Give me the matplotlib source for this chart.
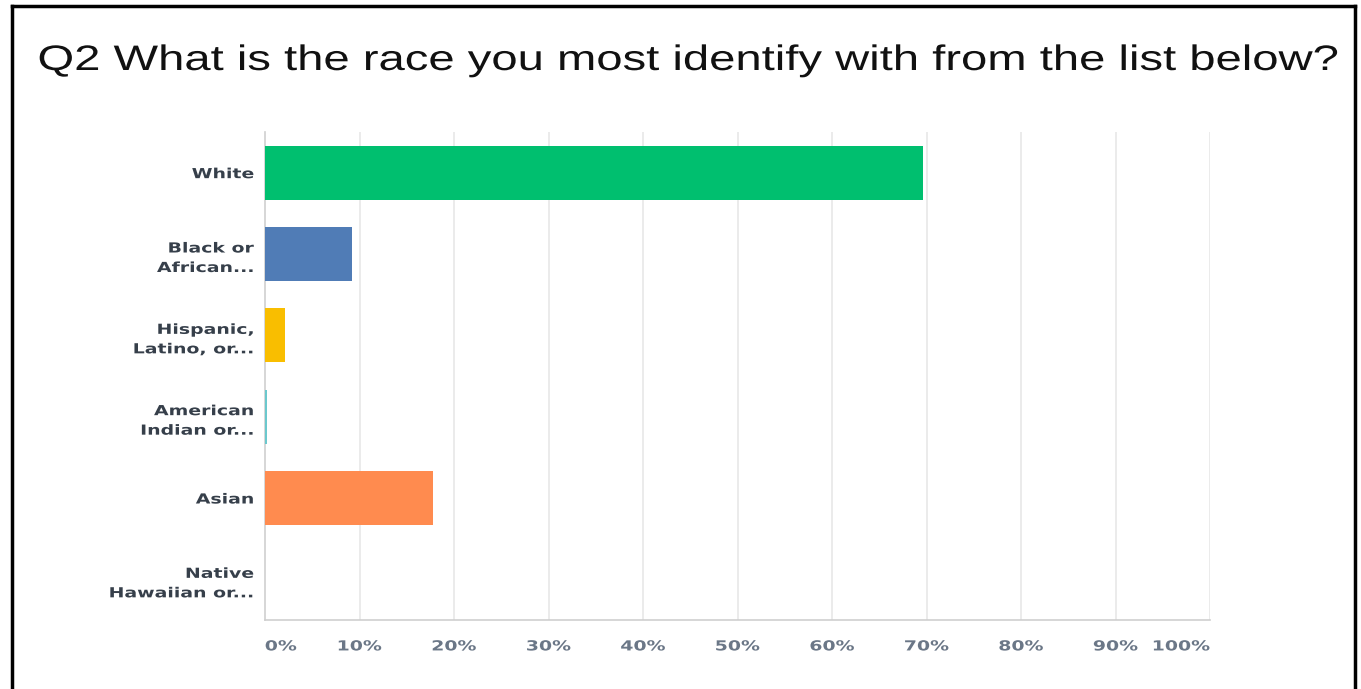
import matplotlib.pyplot as plt
import numpy as np
from matplotlib.lines import Line2D
from matplotlib.patheffects import AbstractPathEffect
from matplotlib.transforms import Affine2D

# answer categories and share of respondents (fraction)
categories = ['White', 'Black or\nAfrican...', 'Hispanic,\nLatino, or...',
              'American\nIndian or...', 'Asian', 'Native\nHawaiian or...']
shares = [0.696, 0.092, 0.021, 0.002, 0.178, 0.0]
bar_colors = ['#00bf6f', '#507cb6', '#f9be00', '#6bc8cd', '#ff8b4f', '#d25f90']
tick_values = [0, 0.1, 0.2, 0.3, 0.4, 0.5, 0.6, 0.7, 0.8, 0.9, 1.0]
tick_labels = ['0%', '10%', '20%', '30%', '40%', '50%', '60%', '70%', '80%', '90%', '100%']


class Stretch(AbstractPathEffect):
    """Widen glyphs horizontally around the left/right/centre of the ink."""

    def __init__(self, sx, anchor='center'):
        super().__init__()
        self.sx = sx
        self.anchor = anchor

    def draw_path(self, renderer, gc, tpath, affine, rgbFace=None):
        bb = tpath.get_extents(affine)
        x0 = {'left': bb.x0, 'right': bb.x1, 'center': 0.5 * (bb.x0 + bb.x1)}[self.anchor]
        t = affine + Affine2D().translate(-x0, 0).scale(self.sx, 1).translate(x0, 0)
        renderer.draw_path(gc, tpath, t, rgbFace)


W, H = 1361, 689
fig = plt.figure(figsize=(W / 100, H / 100), dpi=100)

ax = fig.add_axes([265 / W, 1 - 620 / H, (1210 - 265) / W, (620 - 132) / H])

y = np.arange(len(categories))
ax.barh(y, shares, height=0.66, color=bar_colors, zorder=3)
ax.set_ylim(len(categories) - 0.5, -0.5)
ax.set_xlim(0, 1)

# light vertical grid
for v in tick_values[1:]:
    ax.axvline(v, color='#e8e8e8', lw=1.2, zorder=1)

for s in ['top', 'right']:
    ax.spines[s].set_visible(False)
ax.spines['left'].set_color('#cfcfcf')
ax.spines['bottom'].set_color('#cfcfcf')
ax.spines['left'].set_linewidth(1.2)
ax.spines['bottom'].set_linewidth(1.2)

ax.set_yticks(y)
ax.set_yticklabels(categories, fontsize=10, fontweight='bold', color='#363f4a',
                   family='DejaVu Sans', linespacing=1.5)
ax.tick_params(axis='y', length=0, pad=8)
for lab in ax.get_yticklabels():
    lab.set_path_effects([Stretch(1.36, 'right')])

ax.set_xticks(tick_values)
ax.set_xticklabels(tick_labels, fontsize=10, fontweight='bold', color='#6b7787',
                   family='DejaVu Sans')
ax.tick_params(axis='x', length=0, pad=14)
xt = ax.get_xticklabels()
for lab in xt:
    lab.set_path_effects([Stretch(1.36, 'center')])
xt[0].set_ha('left')
xt[0].set_path_effects([Stretch(1.36, 'left')])
xt[-1].set_ha('right')
xt[-1].set_path_effects([Stretch(1.36, 'right')])

title = fig.text(38 / W, 1 - 70 / H,
                 'Q2 What is the race you most identify with from the list below?',
                 fontsize=25.5, family='Liberation Sans', color='#111111',
                 ha='left', va='baseline')
title.set_path_effects([Stretch(1.333, 'left')])

# black frame around the panel
frame_kw = dict(color='black', lw=2.5, transform=fig.transFigure)
fig.add_artist(Line2D([11.5 / W, 11.5 / W], [0, 1 - 6 / H], **frame_kw))
fig.add_artist(Line2D([1354.5 / W, 1354.5 / W], [0, 1 - 6 / H], **frame_kw))
fig.add_artist(Line2D([11.5 / W, 1354.5 / W], [1 - 6 / H, 1 - 6 / H], **frame_kw))

plt.savefig('out.png', dpi=100)
